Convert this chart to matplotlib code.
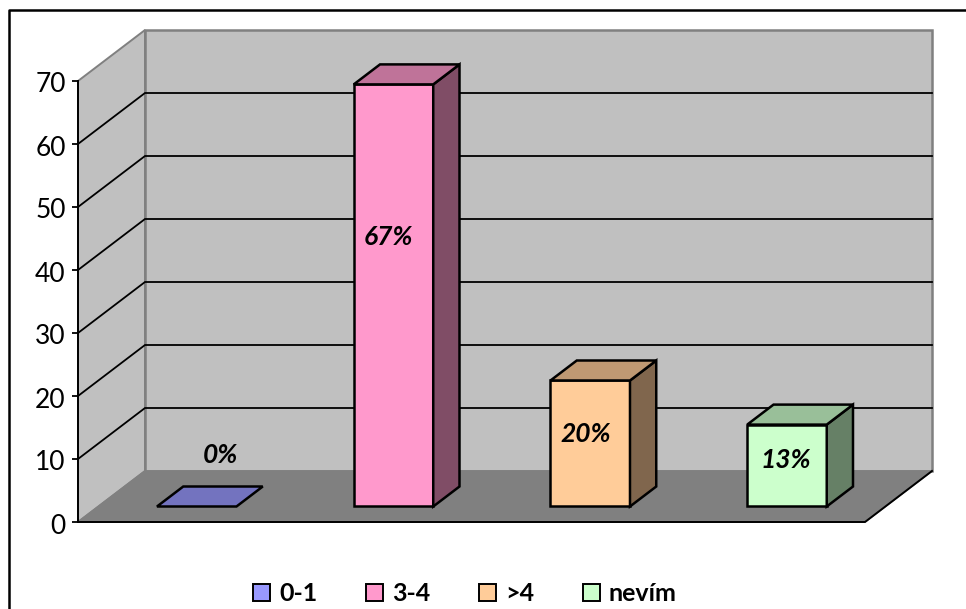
import matplotlib
matplotlib.use('Agg')
import matplotlib.pyplot as plt
from matplotlib.patches import Patch, Polygon
from matplotlib.transforms import ScaledTranslation

categories = ['0-1', '3-4', '>4', 'nevím']
values = [0, 67, 20, 13]
value_labels = ['0%', '67%', '20%', '13%']
yticks = [0, 10, 20, 30, 40, 50, 60, 70]

colors = ['#9999FF', '#FF99CC', '#FFCC99', '#CCFFCC']
top_colors = ['#7373BF', '#BF7399', '#BF9973', '#99BF99']
side_colors = ['#4D4D80', '#804D66', '#80664D', '#668066']

W, H = 966, 609
DX = 0.3405    # depth of the box along x, in categories
DY = 8.095     # depth of the box along y, in value units
BAR_W = 0.404
D0, D1 = 0.304, 0.696

# label anchors, x in categories and y in value units
label_x = [0.725, 1.578, 2.582, 3.598]
label_y = [10.6, 45.3, 14.0, 9.9]


def proj(x, y, d=0.0):
    return x + d * DX, y + d * DY


def poly(ax, pts, **kw):
    kw.setdefault('clip_on', False)
    ax.add_patch(Polygon(pts, closed=True, **kw))


plt.rcParams['font.family'] = ['Lato', 'DejaVu Sans']
fig = plt.figure(figsize=(W / 100, H / 100), dpi=100)
ax = fig.add_axes([78 / W, 1 - 522 / H, 787 / W, 441 / H])
ax.set_xlim(0, len(categories))
ax.set_ylim(0, 70)
ax.patch.set_visible(False)

# chart border, open on the right and at the bottom
fig.add_artist(plt.Line2D([8.5 / W, 8.5 / W, 1], [0, 1 - 9.5 / H, 1 - 9.5 / H],
                          color='black', lw=1.8))

nx = len(categories)
wall = '#C0C0C0'
edge = '#808080'

# side wall, back wall and floor
poly(ax, [proj(0, 0), proj(0, 0, 1), proj(0, 70, 1), proj(0, 70)],
     facecolor=wall, edgecolor=edge, lw=1.4, zorder=1)
poly(ax, [proj(0, 0, 1), proj(nx, 0, 1), proj(nx, 70, 1), proj(0, 70, 1)],
     facecolor=wall, edgecolor=edge, lw=1.8, zorder=1)
poly(ax, [proj(0, 0), proj(nx, 0), proj(nx, 0, 1), proj(0, 0, 1)],
     facecolor=edge, edgecolor=edge, lw=1.2, zorder=1.5)

# gridlines wrap from the side wall onto the back wall
for t in yticks[1:-1]:
    xs, ys = zip(proj(0, t), proj(0, t, 1), proj(nx, t, 1))
    ax.plot(xs, ys, color='black', lw=1.3, zorder=2, clip_on=False,
            solid_joinstyle='miter')

# front and right edges of the floor
xs, ys = zip(proj(0, 0), proj(nx, 0), proj(nx, 0, 1))
ax.plot(xs, ys, color='black', lw=1.4, zorder=2, clip_on=False)

for i, v in enumerate(values):
    x0 = i + 0.5 - BAR_W / 2
    x1 = i + 0.5 + BAR_W / 2
    z = 3 + i
    style = dict(edgecolor='black', lw=1.8, joinstyle='miter', zorder=z)
    if v > 0:
        poly(ax, [proj(x0, 0, D0), proj(x1, 0, D0), proj(x1, v, D0), proj(x0, v, D0)],
             facecolor=colors[i], **style)
        poly(ax, [proj(x1, 0, D0), proj(x1, 0, D1), proj(x1, v, D1), proj(x1, v, D0)],
             facecolor=side_colors[i], **style)
    poly(ax, [proj(x0, v, D0), proj(x1, v, D0), proj(x1, v, D1), proj(x0, v, D1)],
         facecolor=top_colors[i], **style)
    ax.text(label_x[i], label_y[i], value_labels[i], ha='center', va='center',
            fontsize=19, fontweight='bold', fontstyle='italic', color='black',
            zorder=10)

for name in ['top', 'right', 'bottom']:
    ax.spines[name].set_visible(False)
ax.spines['left'].set_color('black')
ax.spines['left'].set_linewidth(1.4)
ax.spines['left'].set_zorder(3)
ax.set_xticks([])
ax.set_yticks(yticks)
ax.tick_params(axis='y', direction='out', length=4.3, width=1.3, pad=4.5,
               labelsize=19, color='black')

# nudge the tick labels down a little so the digits sit level with the ticks
nudge = ScaledTranslation(0, -1.5 / 100, fig.dpi_scale_trans)
for lab in ax.get_yticklabels():
    lab.set_transform(lab.get_transform() + nudge)

handles = [Patch(facecolor=c, edgecolor='black', lw=1.4) for c in colors]
fig.legend(handles, categories, ncols=4, frameon=False,
           loc='center', bbox_to_anchor=(465 / W, 1 - 593.5 / H),
           prop=dict(size=18, weight='bold'),
           handlelength=0.68, handleheight=0.68, handletextpad=0.36,
           columnspacing=1.95, borderpad=0, borderaxespad=0)

fig.savefig('out.png', dpi=100)
